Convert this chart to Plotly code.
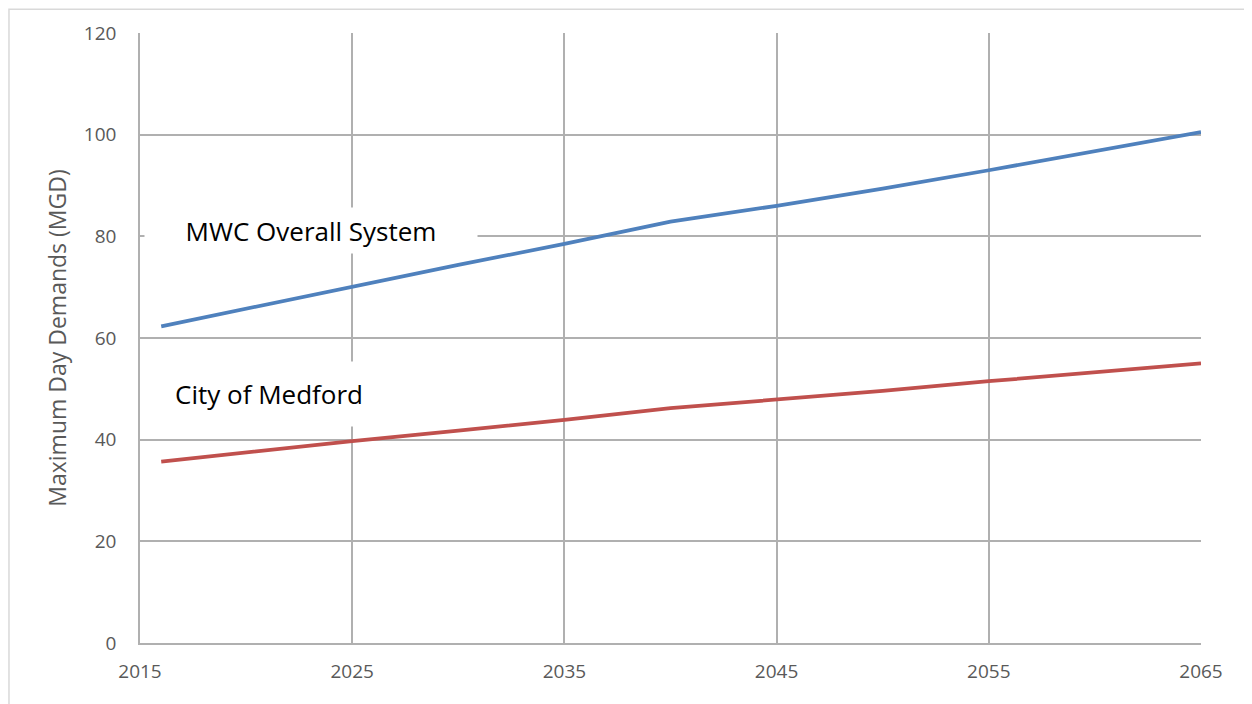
import plotly.graph_objects as go

years = [2016, 2020, 2025, 2030, 2035, 2040, 2045, 2050, 2055, 2060, 2065]
mwc_overall = [62.3, 65.8, 70.2, 74.4, 78.5, 82.9, 86.0, 89.4, 93.0, 96.7, 100.5]
city_medford = [35.7, 37.5, 39.7, 41.8, 43.9, 46.2, 47.9, 49.6, 51.5, 53.2, 55.0]
x_ticks = [2015, 2025, 2035, 2045, 2055, 2065]
y_ticks = [0, 20, 40, 60, 80, 100, 120]

FONT = "Open Sans"
GRID = "#b0b0b0"
TXT = "#595959"

fig = go.Figure()
fig.add_trace(go.Scatter(x=years, y=mwc_overall, mode="lines", name="MWC Overall System",
                         line=dict(color="#4F81BD", width=3.75)))
fig.add_trace(go.Scatter(x=years, y=city_medford, mode="lines", name="City of Medford",
                         line=dict(color="#C0504D", width=3.75)))

fig.update_layout(
    width=1244, height=696,
    margin=dict(l=132, r=51, t=25, b=61),
    paper_bgcolor="white", plot_bgcolor="white",
    showlegend=False,
    font=dict(family=FONT, color=TXT, size=19),
    xaxis=dict(range=[2015, 2065], tickvals=x_ticks, showgrid=True, gridcolor=GRID, gridwidth=1.5,
               showline=True, linecolor=GRID, linewidth=1.5, zeroline=False,
               ticks="outside", ticklen=10, tickcolor="rgba(0,0,0,0)",
               tickfont=dict(size=19, color=TXT)),
    yaxis=dict(range=[0, 120], tickvals=y_ticks, showgrid=True, gridcolor=GRID, gridwidth=1.5,
               showline=True, linecolor=GRID, linewidth=1.5, zeroline=False,
               ticks="outside", ticklen=18, tickcolor="rgba(0,0,0,0)",
               tickfont=dict(size=19, color=TXT),
               title=dict(text="Maximum Day Demands (MGD)", font=dict(size=23, color=TXT), standoff=11)),
    annotations=[
        dict(x=2023.06, y=81.2, xref="x", yref="y", text="MWC Overall System", showarrow=False,
             font=dict(family=FONT, size=26, color="black"), bgcolor="white",
             width=330, height=43),
        dict(x=2021.08, y=48.9, xref="x", yref="y", text="City of Medford", showarrow=False,
             font=dict(family=FONT, size=26, color="black"), bgcolor="white",
             width=240, height=62),
    ],
    shapes=[
        dict(type="rect", xref="paper", yref="paper", x0=-0.1235, x1=1.0449, y0=-0.3, y1=1.039,
             line=dict(color="#d9d9d9", width=1.5), fillcolor="rgba(0,0,0,0)", layer="below"),
    ],
)

fig.write_html("out.html")
